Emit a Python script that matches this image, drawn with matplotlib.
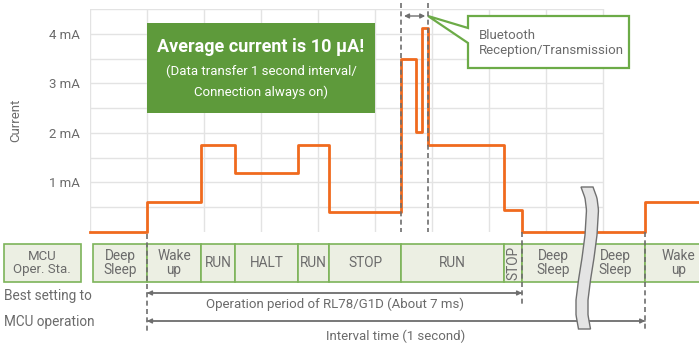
import matplotlib
matplotlib.use("Agg")
import matplotlib.pyplot as plt
import numpy as np
from matplotlib.patches import Rectangle, Polygon
from matplotlib.transforms import blended_transform_factory

plt.rcParams["font.family"] = ["Roboto", "DejaVu Sans"]

# time axis in grid columns, current in mA
step_edges = [0, 1.0, 1.95, 2.55, 3.65, 4.19, 5.46, 5.72, 5.82, 5.93, 7.26, 7.58, 9.74, 10.7]
current_ma = [0, 0.6, 1.76, 1.2, 1.76, 0.4, 3.5, 2.02, 4.11, 1.75, 0.44, 0, 0.6]

phase_edges = [0.05, 1.0, 1.95, 2.55, 3.65, 4.19, 5.46, 7.26, 7.58, 8.68, 9.74, 10.9]
phase_labels = ["Deep\nSleep", "Wake\nup", "RUN", "HALT", "RUN", "STOP", "RUN",
                "STOP", "Deep\nSleep", "Deep\nSleep", "Wake\nup"]

ytick_vals = [1, 2, 3, 4]
ytick_labels = ["1 mA", "2 mA", "3 mA", "4 mA"]

bt_window = (5.46, 5.93)
op_period = (1.0, 7.58)
interval = (1.0, 9.74)

ORANGE = "#f06a1e"
GREEN = "#5e9a3b"
LINE_GREEN = "#6cab47"
BOX_FILL = "#ecefe3"
BOX_EDGE = "#7db45a"
TEXT = "#6b6b6b"
GRID = "#e3e3e3"
DASH = "#6e6e6e"

W, H = 699, 347
fig = plt.figure(figsize=(W / 100, H / 100), dpi=100)

# current plot, placed in pixel terms
left, right, top, bottom = 90, 699, 9, 232
ax = fig.add_axes([left / W, (H - bottom) / H, (right - left) / W, (bottom - top) / H])
ax.set_xlim(0, (right - left) / 57)
ax.set_ylim(0, 4.5)
for s in ax.spines.values():
    s.set_visible(False)
ax.set_xticks([])
ax.set_yticks(ytick_vals, ytick_labels)
ax.tick_params(axis="y", length=0, pad=7, labelsize=9.5, labelcolor=TEXT)
ax.vlines(np.arange(0, 10), 0, 4.52, color=GRID, lw=1, zorder=0)
ax.hlines(np.arange(0.5, 4.51, 0.5), 0, 9, color=GRID, lw=1, zorder=0)
ax.step(step_edges, current_ma + [current_ma[-1]], where="post",
        color=ORANGE, lw=2, clip_on=False, zorder=3)
ax.set_ylabel("Current", fontsize=9.5, color=TEXT)
ax.yaxis.set_label_coords(-0.112, 0.5)
ax.set_zorder(1)

# overlay in pixel coordinates for the annotations
ov = fig.add_axes([0, 0, 1, 1])
ov.set_xlim(0, W)
ov.set_ylim(H, 0)
ov.axis("off")
ov.patch.set_visible(False)
ov.set_zorder(2)
tr = blended_transform_factory(ax.transData, ov.transData)

# headline box
ov.add_patch(Rectangle((147, 23), 228, 90, facecolor=GREEN, edgecolor="none"))
ov.text(261, 47, "Average current is 10 μA!", color="white", fontsize=13,
        fontweight="bold", ha="center", va="center")
ov.text(261, 71, "(Data transfer 1 second interval/", color="white", fontsize=9.5,
        ha="center", va="center")
ov.text(261, 92, "Connection always on)", color="white", fontsize=9.5,
        ha="center", va="center")

# callout
callout = [(468, 28), (428, 16), (468, 43), (468, 68), (629, 68), (629, 16), (468, 16)]
ov.add_patch(Polygon(callout, closed=True, facecolor="white", edgecolor=LINE_GREEN,
                     lw=1.6, joinstyle="miter"))
ov.text(479, 35, "Bluetooth", color=TEXT, fontsize=9.5, ha="left", va="center")
ov.text(479, 50, "Reception/Transmission", color=TEXT, fontsize=9.5, ha="left", va="center")

# dashed markers
dash_kw = dict(color=DASH, lw=1.2, linestyle=(0, (3, 2)), transform=tr, zorder=5)
for t in bt_window:
    ov.plot([t, t], [3, 232], **dash_kw)
ov.plot([op_period[0]] * 2, [234, 332], **dash_kw)
ov.plot([op_period[1]] * 2, [232, 307], **dash_kw)
ov.plot([interval[1]] * 2, [232, 332], **dash_kw)

arrow_kw = dict(arrowstyle="-|>", color=DASH, lw=1, mutation_scale=7,
                shrinkA=0, shrinkB=0)
ov.annotate("", xy=(bt_window[0], 16), xytext=(bt_window[1], 16), xycoords=tr,
            textcoords=tr, arrowprops=dict(arrowstyle="<|-|>", color=DASH, lw=1,
                                           mutation_scale=7, shrinkA=2, shrinkB=2))

# status row
row_top, row_h = 244, 38
ov.add_patch(Rectangle((4, row_top), 77, row_h, facecolor=BOX_FILL,
                       edgecolor=BOX_EDGE, lw=1.2))
ov.text(42, row_top + row_h / 2, "MCU\nOper. Sta.", color=TEXT, fontsize=9.5,
        ha="center", va="center", linespacing=1.05)
for a, b, lab in zip(phase_edges[:-1], phase_edges[1:], phase_labels):
    ov.add_patch(Rectangle((a, row_top), b - a, row_h, transform=tr,
                           facecolor=BOX_FILL, edgecolor=BOX_EDGE, lw=1.2, clip_on=False))
    rot = 90 if (b - a) < 0.4 else 0
    ov.text((a + b) / 2, row_top + row_h / 2, lab, transform=tr, color=TEXT,
            fontsize=9.8, ha="center", va="center", rotation=rot, linespacing=1.0)

# break mark across the idle period
cy = np.array([187, 198, 210, 235, 258, 280, 300, 315, 329])
cx = np.array([587, 591, 592.5, 591, 588, 584.5, 582, 582, 584.5])
yy = np.linspace(cy[0], cy[-1], 60)
xx = np.interp(yy, cy, cx)
shape = np.vstack([np.column_stack([xx - 6, yy]), np.column_stack([xx[::-1] + 6, yy[::-1]])])
ov.add_patch(Polygon(shape, closed=True, facecolor="#e4e4e4", edgecolor="#707070",
                     lw=1, zorder=6))

# bottom annotations
ov.text(4, 296, "Best setting to", color=TEXT, fontsize=9.8, ha="left", va="center")
ov.text(4, 322, "MCU operation", color=TEXT, fontsize=9.8, ha="left", va="center")
ov.annotate("", xy=(op_period[1], 293), xytext=(op_period[0], 293), xycoords=tr,
            textcoords=tr, arrowprops=arrow_kw)
ov.annotate("", xy=(op_period[0], 293), xytext=(op_period[1], 293), xycoords=tr,
            textcoords=tr, arrowprops=arrow_kw)
ov.text(sum(op_period) / 2, 304, "Operation period of RL78/G1D (About 7 ms)",
        transform=tr, color=TEXT, fontsize=9.5, ha="center", va="center")
ov.annotate("", xy=(interval[1], 321), xytext=(interval[0], 321), xycoords=tr,
            textcoords=tr, arrowprops=arrow_kw)
ov.annotate("", xy=(interval[0], 321), xytext=(interval[1], 321), xycoords=tr,
            textcoords=tr, arrowprops=arrow_kw)
ov.text(sum(interval) / 2, 336, "Interval time (1 second)", transform=tr,
        color=TEXT, fontsize=9.5, ha="center", va="center")

fig.savefig("out.png", dpi=100)
